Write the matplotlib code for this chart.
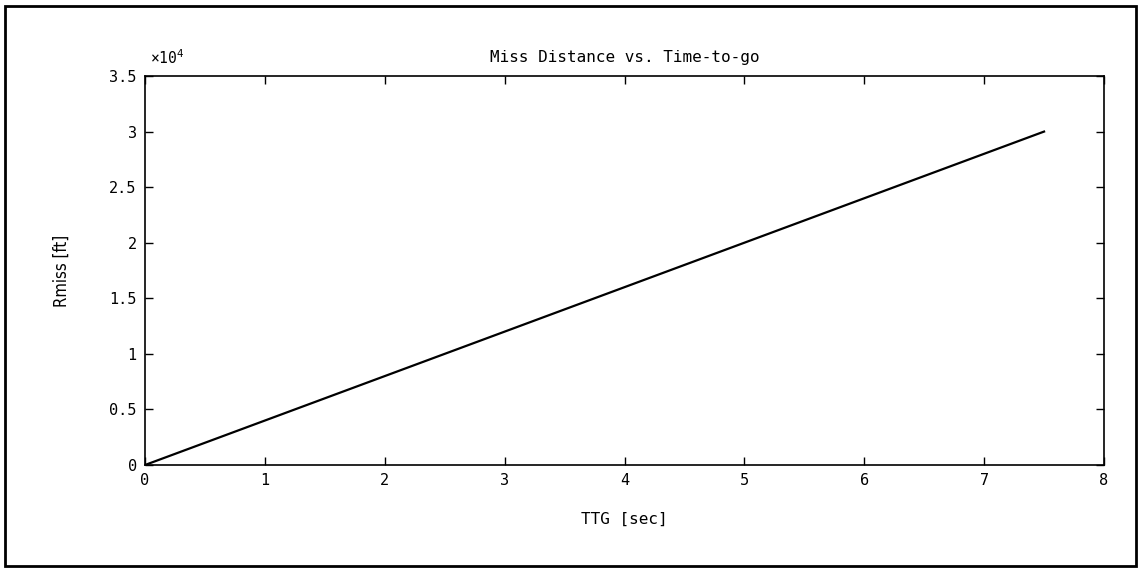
import matplotlib
matplotlib.use("Agg")
import matplotlib.pyplot as plt
from matplotlib.patches import Rectangle

# Miss distance as a function of time-to-go
ttg_sec = [0, 1, 2, 3, 4, 5, 6, 7, 7.5]
rmiss_ft = [0, 4000, 8000, 12000, 16000, 20000, 24000, 28000, 30000]

x_ticks = [0, 1, 2, 3, 4, 5, 6, 7, 8]
y_ticks = [0, 0.5, 1, 1.5, 2, 2.5, 3, 3.5]
y_tick_labels = ["0", "0.5", "1", "1.5", "2", "2.5", "3", "3.5"]
y_scale = 1e4

W, H = 1140, 571
fig = plt.figure(figsize=(W / 100, H / 100), dpi=100)
fig.patch.set_facecolor("white")

# outer page frame
fig.add_artist(Rectangle((5 / W, 5 / H), 1131 / W, 560 / H,
                         transform=fig.transFigure, fill=False,
                         edgecolor="black", linewidth=2.0))

left, right, top, bottom = 145, 1104, 76, 465
ax = fig.add_axes([left / W, 1 - bottom / H, (right - left) / W, (bottom - top) / H])

ax.plot(ttg_sec, [v / y_scale for v in rmiss_ft], color="black", linewidth=1.6)

ax.set_xlim(0, 8)
ax.set_ylim(0, 3.5)
ax.set_xticks(x_ticks)
ax.set_xticklabels([str(t) for t in x_ticks])
ax.set_yticks(y_ticks)
ax.set_yticklabels(y_tick_labels)

mono = "DejaVu Sans Mono"
ax.tick_params(direction="in", length=6, width=1.0, top=True, right=True,
               labelsize=11, pad=6)
for lab in ax.get_xticklabels() + ax.get_yticklabels():
    lab.set_family(mono)
for s in ax.spines.values():
    s.set_linewidth(1.2)

ax.set_title("Miss Distance vs. Time-to-go", family=mono, fontsize=11.5, pad=10)
ax.set_xlabel("TTG [sec]", family=mono, fontsize=11.5, labelpad=17)
ax.set_ylabel("Rmiss [ft]", family="DejaVu Sans", fontstretch="condensed",
              fontsize=12, labelpad=28)

ax.text(0.005, 1.046, "\u00d710$^4$", transform=ax.transAxes, family=mono,
        fontsize=10.5, ha="left", va="center")

fig.savefig("out.png", dpi=100, facecolor="white")
